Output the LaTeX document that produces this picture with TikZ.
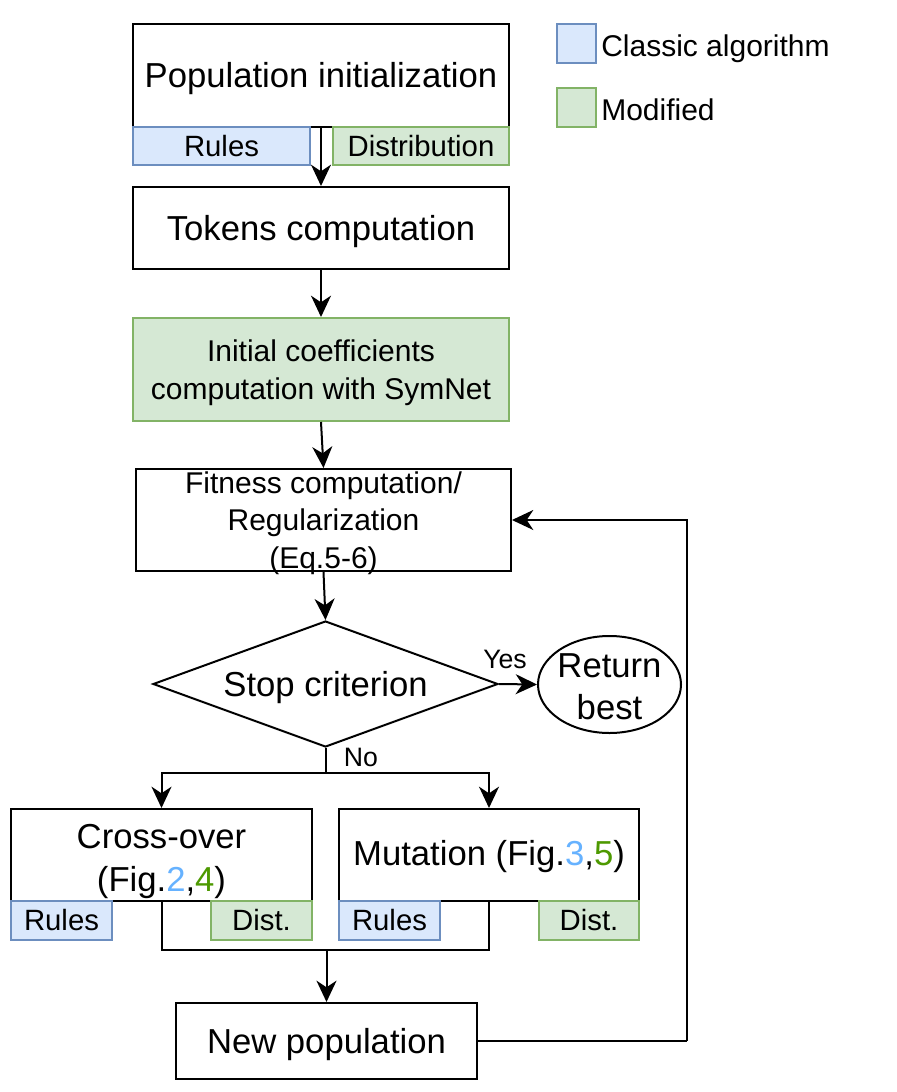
\documentclass[tikz,border=0pt]{standalone}
\usepackage{fontspec}
\setmainfont{Liberation Sans}
\usetikzlibrary{arrows.meta,shapes.geometric}
\definecolor{bluefill}{HTML}{DAE8FC}
\definecolor{blueline}{HTML}{6C8EBF}
\definecolor{greenfill}{HTML}{D5E8D4}
\definecolor{greenline}{HTML}{82B366}
\definecolor{reftblue}{HTML}{66B2FF}
\definecolor{reftgreen}{HTML}{4D9900}
\tikzset{
  conn/.style={line width=1.5pt, black},
  arr/.style={conn, -{Stealth[length=16pt,width=15pt,inset=5pt]}},
  box/.style={draw=black, line width=1.5pt, fill=white, inner sep=0pt, align=center,
    font=\fontsize{26}{30}\selectfont},
  oneline/.style={text height=20.8pt, text depth=2.6pt},
  classic/.style={draw=blueline, fill=bluefill, line width=1.5pt, inner sep=0pt,
    font=\fontsize{22}{26}\selectfont},
  modif/.style={draw=greenline, fill=greenfill, line width=1.5pt, inner sep=0pt,
    font=\fontsize{22}{26}\selectfont},
  lbl/.style={inner sep=0pt, font=\fontsize{20}{24}\selectfont},
  legtext/.style={inner sep=0pt, anchor=base west, font=\fontsize{22.5}{26}\selectfont},
  plaintext/.style={inner sep=0pt, align=center},
}
\begin{document}
\begin{tikzpicture}[x=0.75pt,y=-0.75pt]
\useasboundingbox (0,0) rectangle (896,1092);

% legend
\node[classic, minimum width=29.25pt, minimum height=29.25pt] (legc) at (576.5,43.5) {};
\node[legtext] (legct) at (601,56) {Classic algorithm};
\node[modif, minimum width=29.25pt, minimum height=29.25pt] (legm) at (576.5,107.5) {};
\node[legtext] (legmt) at (601,120) {Modified};

% population initialization
\node[box, oneline, minimum width=282pt, minimum height=77.25pt] (pop) at (321,75.5) {Population initialization};
\node[classic, minimum width=132.75pt, minimum height=28.5pt] (rules1) at (221.5,146) {Rules};
\node[modif, minimum width=132pt, minimum height=28.5pt] (dist1) at (421,146) {Distribution};

% tokens
\node[box, oneline, minimum width=282pt, minimum height=61.5pt] (tok) at (321,228) {Tokens computation};

% initial coefficients
\node[box, fill=greenfill, draw=greenline, minimum width=282pt, minimum height=77.25pt] (init) at (321,369.5) {};
\node[plaintext, font=\fontsize{22.5}{28.5}\selectfont] (inittext) at (321,372.5) {Initial coefficients\\computation with SymNet};

% fitness
\node[box, minimum width=281.25pt, minimum height=76.5pt] (fit) at (323.5,520) {};
\node[plaintext, font=\fontsize{22.5}{28}\selectfont] (fittext) at (323.5,523) {Fitness computation/\\Regularization\\(Eq.5-6)};

% stop criterion
\node[box, oneline, diamond, aspect=2.74, minimum width=258.75pt, minimum height=94.5pt] (dia) at (325.5,684) {Stop criterion};

% return best
\node[box, ellipse, minimum width=107.25pt, minimum height=72.75pt] (ret) at (609.5,684.5) {};
\node[plaintext, font=\fontsize{26}{31.5}\selectfont] (rettext) at (609.5,687) {Return\\best};

% cross-over and mutation
\node[box, minimum width=225.75pt, minimum height=69pt] (cross) at (161.5,855) {};
\node[plaintext, font=\fontsize{26}{32}\selectfont] (crosstext) at (161.5,861.5) {Cross-over\\(Fig.\textcolor{reftblue}{2},\textcolor{reftgreen}{4})};
\node[classic, minimum width=75.75pt, minimum height=29.25pt] (rules2) at (61.5,920.5) {Rules};
\node[modif, minimum width=75.75pt, minimum height=29.25pt] (dist2) at (261.5,920.5) {Dist.};

\node[box, minimum width=225pt, minimum height=69pt] (mut) at (489,855) {};
\node[plaintext, oneline, font=\fontsize{26}{30}\selectfont] (muttext) at (489,853) {Mutation (Fig.\textcolor{reftblue}{3},\textcolor{reftgreen}{5})};
\node[classic, minimum width=75.75pt, minimum height=29.25pt] (rules3) at (389.5,920.5) {Rules};
\node[modif, minimum width=75pt, minimum height=29.25pt] (dist3) at (589,920.5) {Dist.};

% new population
\node[box, oneline, minimum width=225.75pt, minimum height=57pt] (newp) at (326.5,1041) {New population};

% helper coordinates
\coordinate (split) at (325.5,773);
\coordinate (merge) at (326.5,950);
\coordinate (loop) at (687,1041);

% connectors
\draw[arr] (pop.south) -- (tok.north);
\draw[arr] (tok.south) -- (init.north);
\draw[arr] (init.south) -- (fit.north);
\draw[arr] (fit.south) -- (dia.north);
\draw[arr] (dia.east) -- (ret.west);
\node[lbl, anchor=base] (yes) at (505,668) {Yes};
\draw[conn] (dia.south) -- (split);
\node[lbl] (no) at (361,757) {No};
\draw[arr] (split) -| (cross.north);
\draw[arr] (split) -| (mut.north);
\draw[conn] (cross.south) |- (merge);
\draw[conn] (mut.south) |- (merge);
\draw[arr] (merge) -- (newp.north);
\draw[conn] (newp.east) -- (loop);
\draw[arr] (loop) |- (fit.east);
\end{tikzpicture}
\end{document}
